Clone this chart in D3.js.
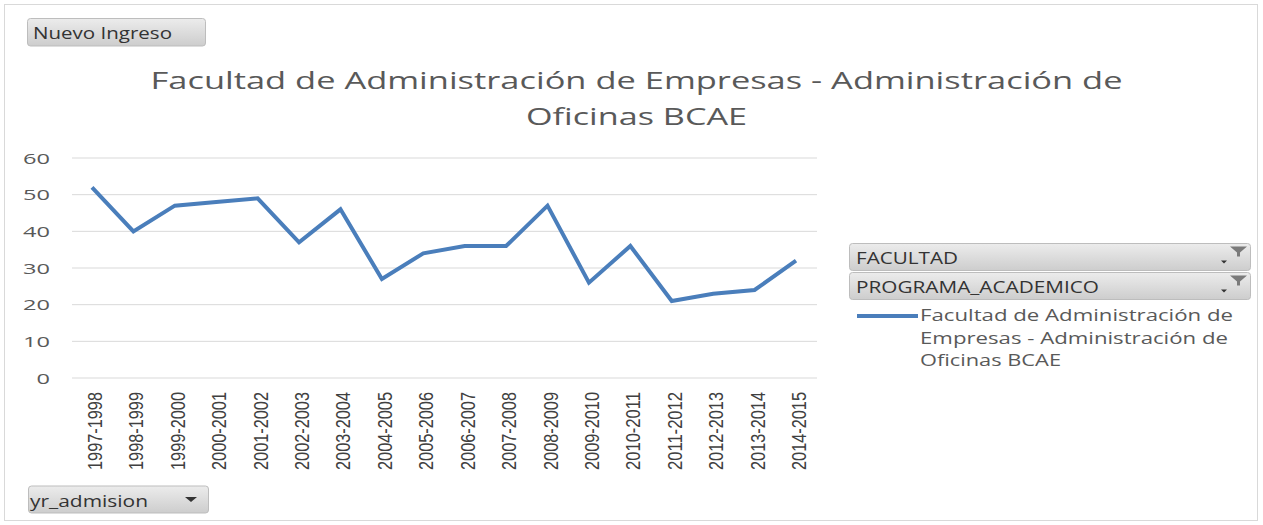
<!DOCTYPE html>
<html><head><meta charset="utf-8">
<script src="https://cdn.jsdelivr.net/npm/d3@7/dist/d3.min.js"></script>
<style>
body{margin:0;background:#fff;}
svg{display:block;font-family:"Open Sans","Noto Sans",sans-serif;}
</style></head>
<body><svg id="c" width="1263" height="525"></svg>
<script>
const categories = ["1997-1998","1998-1999","1999-2000","2000-2001","2001-2002","2002-2003","2003-2004","2004-2005","2005-2006","2006-2007","2007-2008","2008-2009","2009-2010","2010-2011","2011-2012","2012-2013","2013-2014","2014-2015"];
const values = [52,40,47,48,49,37,46,27,34,36,36,47,26,36,21,23,24,32];
const yTicks = [0,10,20,30,40,50,60];
const titleLines = ["Facultad de Administración de Empresas - Administración de","Oficinas BCAE"];
const legendLines = ["Facultad de Administración de","Empresas - Administración de","Oficinas BCAE"];
const filterButtons = ["FACULTAD","PROGRAMA_ACADEMICO"];

const svg = d3.select("#c");
const defs = svg.append("defs");
const g1 = defs.append("linearGradient").attr("id","btn").attr("x1",0).attr("y1",0).attr("x2",0).attr("y2",1);
g1.append("stop").attr("offset","0%").attr("stop-color","#ececec");
g1.append("stop").attr("offset","100%").attr("stop-color","#cdcdcd");

// horizontal stretch helper (the reference is horizontally stretched)
function stretch(sel, factor){
  sel.each(function(){
    const w = this.getComputedTextLength();
    d3.select(this).attr("textLength", w*factor).attr("lengthAdjust","spacingAndGlyphs");
  });
}
function fitWidth(sel, w){
  sel.attr("textLength", w).attr("lengthAdjust","spacingAndGlyphs");
}

// outer border
svg.append("rect").attr("x",4.5).attr("y",4.5).attr("width",1253).attr("height",516)
  .attr("fill","#fff").attr("stroke","#d9d9d9").attr("stroke-width",1);

const x = d3.scalePoint().domain(categories).range([92,796]);
const y = d3.scaleLinear().domain([0,60]).range([378,158]);

// gridlines
svg.append("g").selectAll("line").data(yTicks).join("line")
  .attr("x1",72).attr("x2",817).attr("y1",d=>y(d)).attr("y2",d=>y(d))
  .attr("stroke","#d9d9d9").attr("stroke-width",1);

// y axis labels
const yl = svg.append("g").selectAll("text").data(yTicks).join("text")
  .attr("x",50).attr("y",d=>y(d)+5.5).attr("text-anchor","end")
  .attr("font-size",14.5).attr("fill","#595959").text(d=>d);
yl.each(function(d){ fitWidth(d3.select(this), String(d).length*13.5); });

// x labels
svg.append("g").selectAll("text").data(categories).join("text")
  .attr("transform",d=>`translate(${x(d)+10},392) rotate(-90)`)
  .attr("text-anchor","end")
  .attr("font-family","'Liberation Sans Narrow','Arial Narrow',sans-serif")
  .attr("font-size",20).attr("fill","#404040").text(d=>d)
  .call(fitWidth, 78);

// line
const line = d3.line().x((d,i)=>x(categories[i])).y(d=>y(d));
svg.append("path").datum(values).attr("d",line).attr("fill","none")
  .attr("stroke","#4a7ebb").attr("stroke-width",4).attr("stroke-linejoin","miter");

// title
const titleW = [972, 221];
svg.append("g").selectAll("text").data(titleLines).join("text")
  .attr("x",636.5).attr("y",(d,i)=>89+i*36).attr("text-anchor","middle")
  .attr("font-size",24).attr("fill","#595959").text(d=>d)
  .each(function(d,i){ fitWidth(d3.select(this), titleW[i]); });

// buttons
function button(x0,y0,w,h,label,fs,tx,ty,tw){
  svg.append("rect").attr("x",x0).attr("y",y0).attr("width",w).attr("height",h).attr("rx",3)
    .attr("fill","url(#btn)").attr("stroke","#bdbdbd");
  svg.append("text").attr("x",tx).attr("y",ty).attr("font-size",fs).attr("fill","#333").text(label)
    .call(fitWidth, tw);
}
button(27.5,18.5,178,27.5,"Nuevo Ingreso",15.5,33,38.5,139);
button(28.5,486,180,27,"yr_admision",16,30,506.5,118);
svg.append("path").attr("d","M185,497 L197,497 L191,502 Z").attr("fill","#333");

const fbW = [102, 243];
filterButtons.forEach((t,i)=>{
  const y0 = 243.5 + i*29;
  button(849.5,y0,401,27,t,15.5,856,y0+20,fbW[i]);
  // filter icon
  svg.append("path").attr("d",`M1230,${y0+3} L1247,${y0+3} L1240,${y0+9} L1240,${y0+13} L1237,${y0+13} L1237,${y0+9} Z`).attr("fill","#7a7a7a");
  svg.append("path").attr("d",`M1221,${y0+17} L1227,${y0+17} L1224,${y0+20} Z`).attr("fill","#333");
});

// legend
svg.append("line").attr("x1",857).attr("x2",918).attr("y1",316).attr("y2",316)
  .attr("stroke","#4a7ebb").attr("stroke-width",4);
const legW = [313, 308, 141];
svg.append("g").selectAll("text").data(legendLines).join("text")
  .attr("x",920).attr("y",(d,i)=>321+i*22.7).attr("font-size",15.5).attr("fill","#595959").text(d=>d)
  .each(function(d,i){ fitWidth(d3.select(this), legW[i]); });
</script></body></html>
